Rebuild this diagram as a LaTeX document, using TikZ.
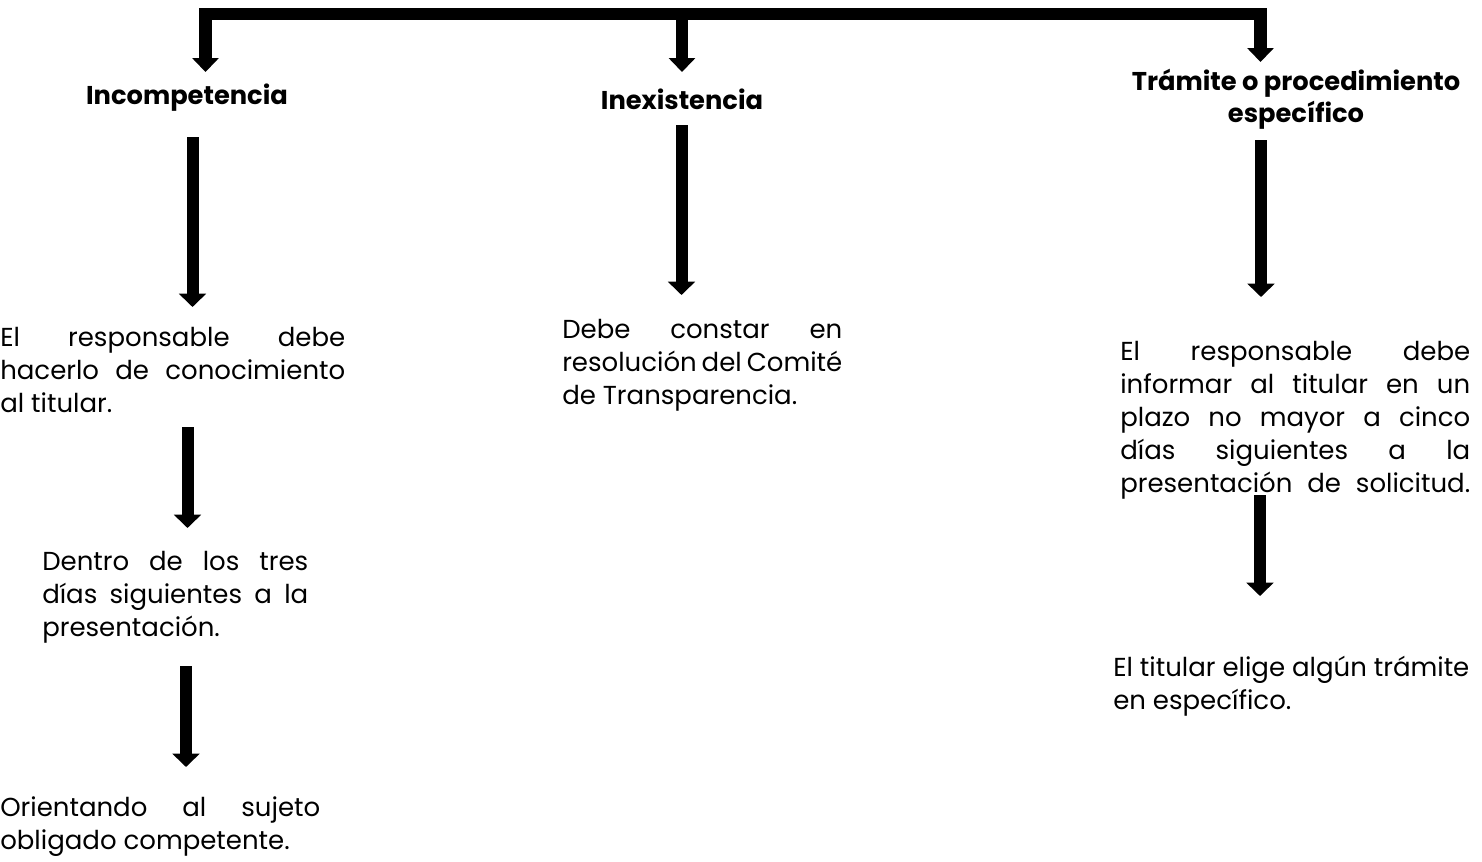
\documentclass[tikz,border=0pt]{standalone}
\usepackage{fontspec}
\setmainfont{Poppins}
\usetikzlibrary{arrows.meta}
\newdimen\pxu \pxu=0.75pt
\newcommand{\jl}[2]{\makebox[#1\pxu][s]{#2}}
\tikzset{
  txt/.style={font=\fontsize{19.5}{24.75}\selectfont, align=left, inner sep=0pt, anchor=north west},
  hdr/.style={font=\fontsize{19.3}{24}\selectfont\bfseries, align=center, inner sep=0pt},
  arr/.style={line width=9pt, -{Triangle[width=20pt,length=10pt]}},
  bar/.style={line width=9.4pt, line join=miter, {Triangle[width=19.5pt,length=10.5pt]}-{Triangle[width=19.5pt,length=10.5pt]}},
  stem/.style={line width=9.4pt, -{Triangle[width=19.5pt,length=10.5pt]}}
}
\begin{document}
\begin{tikzpicture}[x=0.75pt,y=-0.75pt]
\useasboundingbox (0,0) rectangle (1482,861);
% headers
\node[hdr] (h1) at (187,98) {Incompetencia};
\node[hdr] (h2) at (682,99) {Inexistencia};
\node[hdr] (h3) at (1296,99) {Trámite o procedimiento\\específico};
% top bar
\coordinate (t1) at (205.5,72);
\coordinate (t3) at (1260.5,62);
\coordinate (tm) at (682,14);
\coordinate (t2) at (682,72);
\draw[bar] (t1) -- (205.5,14) -- (1260.5,14) -- (t3);
\draw[stem] (tm) -- (t2);
% text blocks
\node[txt] (b1) at (0,327) {\jl{345}{El responsable debe}\\\jl{345}{hacerlo de conocimiento}\\al titular.};
\node[txt] (b2) at (42,551) {\jl{266}{Dentro de los tres}\\\jl{266}{días siguientes a la}\\presentación.};
\node[txt] (b3) at (0,796) {\jl{320}{Orientando al sujeto}\\obligado competente.};
\node[txt] (b4) at (562,319) {\jl{280}{Debe constar en}\\\jl{280}{resolución del Comité}\\de Transparencia.};
\node[txt] (b5) at (1120,341) {\jl{350}{El responsable debe}\\\jl{350}{informar al titular en un}\\\jl{350}{plazo no mayor a cinco}\\\jl{350}{días siguientes a la}\\\jl{350}{presentación de solicitud.}};
\node[txt] (b6) at (1113,656) {El titular elige algún trámite\\en específico.};
% column arrows
\coordinate (a1s) at (192.5,137); \coordinate (a1e) at (192.5,307);
\coordinate (a2s) at (187.5,427); \coordinate (a2e) at (187.5,528);
\coordinate (a3s) at (186,666);   \coordinate (a3e) at (186,767);
\coordinate (a4s) at (681.5,125); \coordinate (a4e) at (681.5,295);
\coordinate (a5s) at (1261,140);  \coordinate (a5e) at (1261,297);
\coordinate (a6s) at (1260,495);  \coordinate (a6e) at (1260,596);
\draw[arr] (a1s) -- (a1e);
\draw[arr] (a2s) -- (a2e);
\draw[arr] (a3s) -- (a3e);
\draw[arr] (a4s) -- (a4e);
\draw[arr] (a5s) -- (a5e);
\draw[arr] (a6s) -- (a6e);
\end{tikzpicture}
\end{document}
